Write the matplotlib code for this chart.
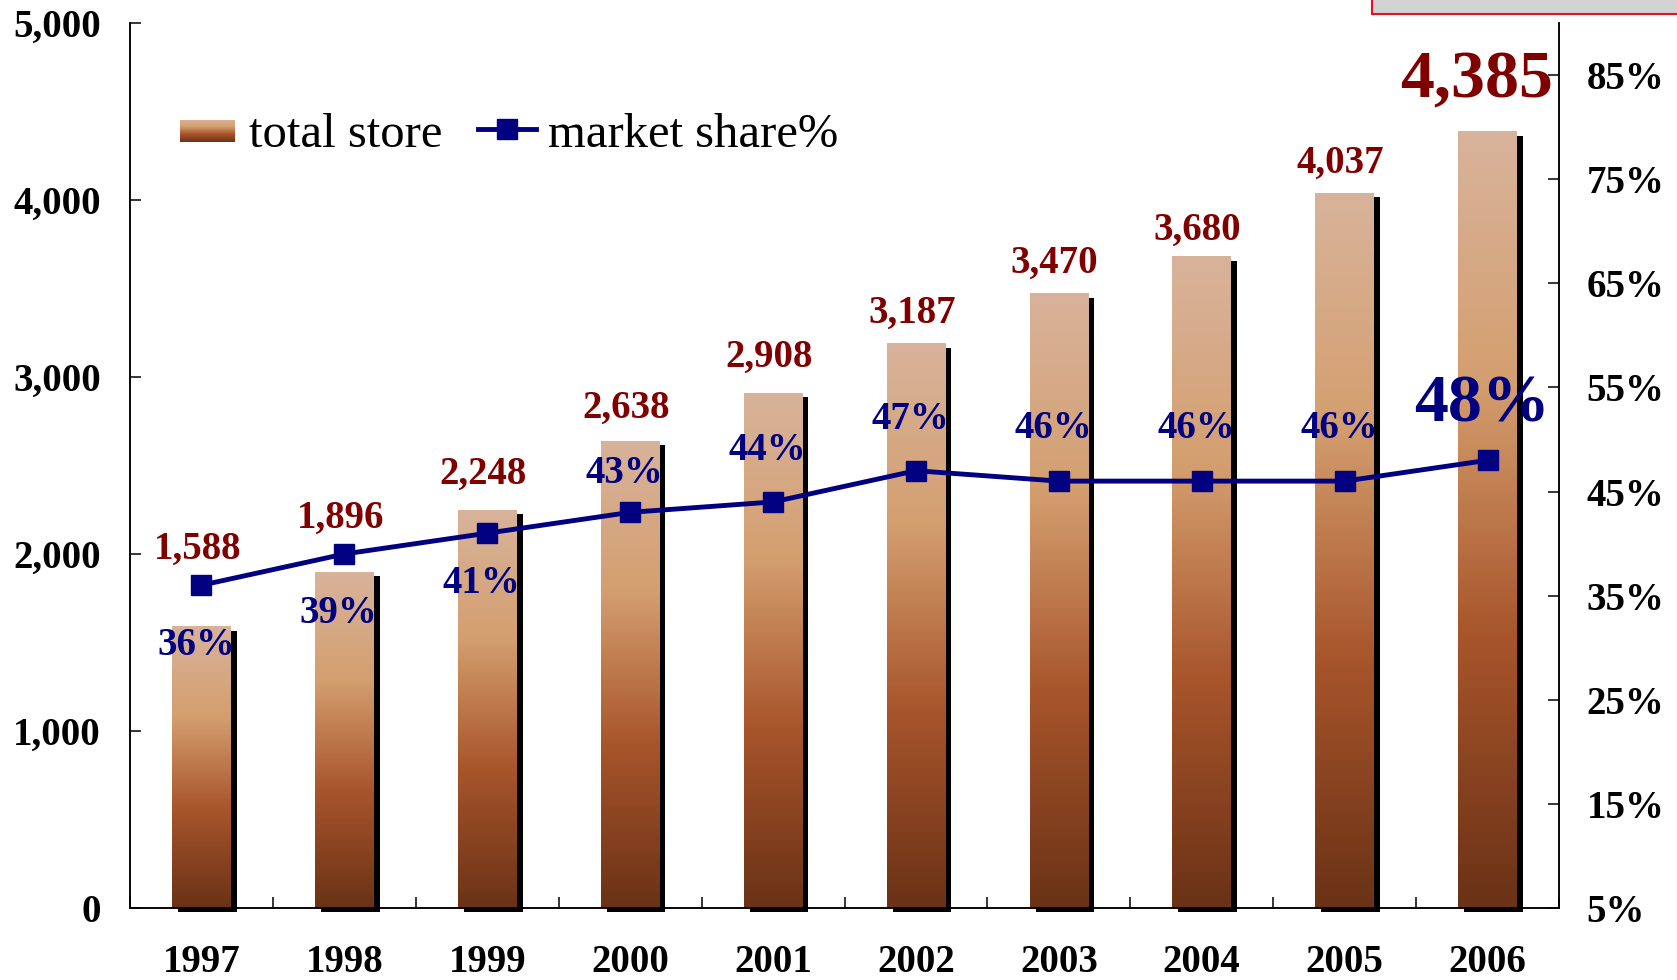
import matplotlib
matplotlib.use("Agg")
import matplotlib.pyplot as plt
import matplotlib.transforms as mtransforms
from matplotlib.colors import LinearSegmentedColormap
from matplotlib.lines import Line2D
from matplotlib.patches import Rectangle
import numpy as np

years = ["1997", "1998", "1999", "2000", "2001", "2002", "2003", "2004", "2005", "2006"]
total_store = [1588, 1896, 2248, 2638, 2908, 3187, 3470, 3680, 4037, 4385]
market_share = [36, 39, 41, 43, 44, 47, 46, 46, 46, 48]
left_ticks = [0, 1000, 2000, 3000, 4000, 5000]
right_ticks = [5, 15, 25, 35, 45, 55, 65, 75, 85]

# label offsets in points (layout only)
store_dy = [49, 32, 19, 17, 19, 15, 15, 12, 15, 25]
share_dy = [-50, -50, -43, 21, 30, 30, 31, 31, 31, 28]

RED = "#800000"
NAVY = "#000080"
FONT = "Liberation Serif"
plt.rcParams["font.family"] = [FONT, "DejaVu Serif"]

cmap = LinearSegmentedColormap.from_list(
    "brown", [(0.0, "#6a3216"), (0.35, "#a8552b"), (0.68, "#d49f6f"), (1.0, "#d8b39b")])
grad = np.linspace(1, 0, 256).reshape(-1, 1)

fig = plt.figure(figsize=(16.77, 9.8), dpi=100)
ax = fig.add_axes([130 / 1677, 72 / 980, 1429 / 1677, 885 / 980])
ax2 = ax.twinx()

x = np.arange(len(years))
w = 0.41

# shadows
shadow = mtransforms.offset_copy(ax.transData, fig, x=6, y=-4, units="dots")
ax.bar(x, total_store, width=w, color="black", transform=shadow, clip_on=False, zorder=1)
for xi, v in zip(x, total_store):
    ax.imshow(grad, extent=[xi - w / 2, xi + w / 2, 0, v], aspect="auto",
              cmap=cmap, zorder=2, interpolation="bilinear")

ax.set_xlim(-0.5, len(years) - 0.5)
ax.set_ylim(0, 5000)
ax.set_yticks(left_ticks)
ax.set_yticklabels([f"{t:,}" for t in left_ticks])
ax.set_xticks(x)
ax.set_xticklabels(years)
ax.set_xticks(np.arange(-0.5, len(years), 1), minor=True)
ax.tick_params(axis="x", which="major", length=0, pad=26, labelsize=28)
ax.tick_params(axis="x", which="minor", direction="in", length=8, width=1.1)
ax.tick_params(axis="y", direction="in", length=8, width=1.1, pad=21, labelsize=28)
for lab in ax.get_xticklabels() + ax.get_yticklabels():
    lab.set_fontweight("bold")

ax2.plot(x, market_share, color=NAVY, lw=3.5, marker="s", ms=14, zorder=5)
ax2.set_ylim(5, 90)
ax2.set_yticks(right_ticks)
ax2.set_yticklabels([f"{t}%" for t in right_ticks])
ax2.tick_params(axis="y", direction="in", length=8, width=1.1, pad=20, labelsize=28)
for lab in ax2.get_yticklabels():
    lab.set_fontweight("bold")

for a in (ax, ax2):
    a.spines["top"].set_visible(False)
    for s in ("left", "right", "bottom"):
        a.spines[s].set_linewidth(1.1)

n = len(years)
for i, (xi, v) in enumerate(zip(x, total_store)):
    big = i == n - 1
    ax.annotate(f"{v:,}", (xi, v), xytext=(-8 if big else -3, store_dy[i]),
                textcoords="offset points", ha="center", va="baseline",
                color=RED, fontsize=49 if big else 28, fontweight="bold", zorder=6)

for i, (xi, v) in enumerate(zip(x, market_share)):
    big = i == n - 1
    ax2.annotate(f"{v}%", (xi, v), xytext=(-4, share_dy[i]),
                 textcoords="offset points", ha="center", va="baseline",
                 color=NAVY, fontsize=49 if big else 28, fontweight="bold", zorder=6)

# legend
lax = fig.add_axes([180 / 1677, 1 - 142 / 980, 55 / 1677, 22 / 980])
lax.imshow(grad, aspect="auto", cmap=cmap, extent=[0, 1, 0, 1])
lax.set_axis_off()
fig.text(249 / 1677, 1 - 147 / 980, "total store", fontsize=35, va="baseline", ha="left")
ly = 1 - 129 / 980
fig.add_artist(Line2D([478 / 1677, 507 / 1677, 536 / 1677], [ly, ly, ly], transform=fig.transFigure,
                      color=NAVY, lw=3.5, marker="s", ms=14, markevery=[1]))
fig.text(548 / 1677, 1 - 147 / 980, "market share%", fontsize=35, va="baseline", ha="left")

# box at top right corner
fig.add_artist(Rectangle((1372 / 1677, 1 - 14 / 980), 320 / 1677, 30 / 980, transform=fig.transFigure,
                         facecolor="#d3d3d3", edgecolor="#e8102a", lw=1.5, clip_on=False))

fig.savefig("out.png", dpi=100)
